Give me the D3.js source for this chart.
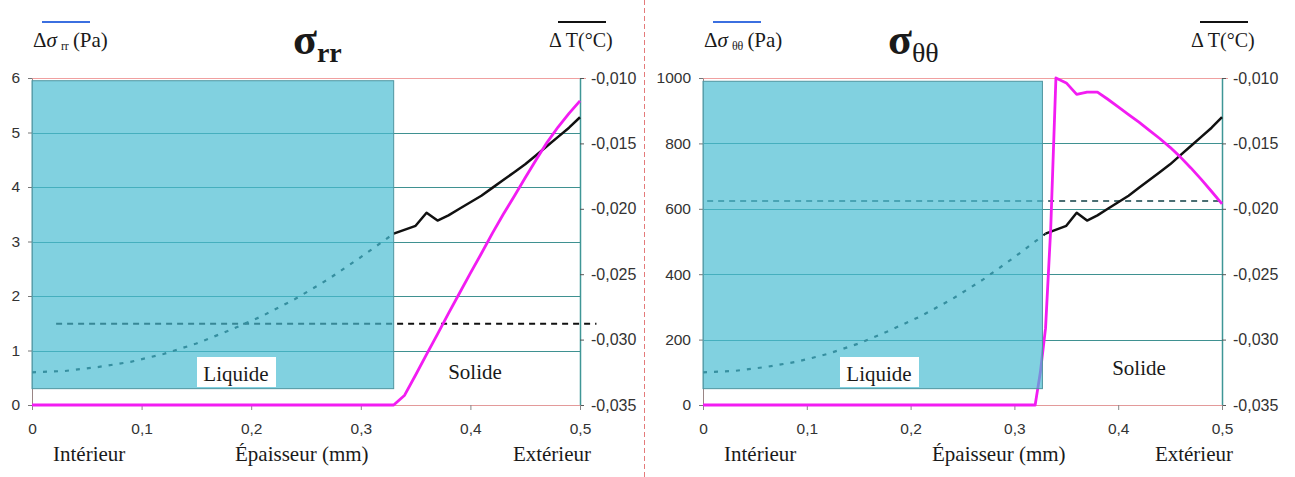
<!DOCTYPE html>
<html lang="fr">
<head>
<meta charset="UTF-8">
<title>σrr / σθθ</title>
<script src="https://cdn.jsdelivr.net/npm/d3@7"></script>
<style>
  body { margin: 0; background: #fff; }
  svg { display: block; }
  .tick text { font-family: "Liberation Sans", Arial, sans-serif; fill: #333; }
  .serif { font-family: "Liberation Serif", "Times New Roman", serif; fill: #1a1a1a; }
</style>
</head>
<body>
<svg id="chart" width="1295" height="477"></svg>
<script>
// thickness ticks (mm)
const xTicks = [0, 0.1, 0.2, 0.3, 0.4, 0.5];
const rrTicks = [0, 1, 2, 3, 4, 5, 6];
const ttTicks = [0, 200, 400, 600, 800, 1000];
const dTTicks = [-0.010, -0.015, -0.020, -0.025, -0.030, -0.035];

// stress sigma_rr (Pa)
const sigmaRR_x = [0, 0.33, 0.34, 0.35, 0.36, 0.37, 0.38, 0.39, 0.40, 0.41, 0.42, 0.43, 0.44, 0.45, 0.46, 0.47, 0.48, 0.49, 0.50];
const sigmaRR   = [0, 0, 0.18, 0.55, 0.93, 1.30, 1.68, 2.05, 2.42, 2.78, 3.15, 3.50, 3.83, 4.17, 4.50, 4.82, 5.10, 5.35, 5.58];

// stress sigma_thetatheta (Pa)
const sigmaTT_x = [0, 0.32, 0.325, 0.33, 0.335, 0.34, 0.35, 0.36, 0.37, 0.38, 0.39, 0.40, 0.41, 0.42, 0.43, 0.44, 0.45, 0.46, 0.47, 0.48, 0.49, 0.50];
const sigmaTT   = [0, 0, 100, 235, 540, 1000, 985, 950, 957, 957, 935, 912, 888, 865, 840, 815, 788, 758, 725, 690, 653, 615];

// temperature difference (°C), solid part and liquid part
const dTSolid_x = [0.33, 0.35, 0.36, 0.37, 0.38, 0.39, 0.40, 0.41, 0.42, 0.43, 0.44, 0.45, 0.46, 0.47, 0.48, 0.49, 0.50];
const dTSolid   = [-0.0219, -0.0213, -0.0203, -0.0209, -0.0205, -0.0200, -0.0195, -0.0190, -0.0184, -0.0178, -0.0172, -0.0166, -0.0159, -0.0152, -0.0145, -0.0138, -0.0130];
const dTLiquid_x = [0, 0.03, 0.06, 0.09, 0.12, 0.15, 0.18, 0.21, 0.24, 0.27, 0.30, 0.33];
const dTLiquid   = [-0.0325, -0.0324, -0.0321, -0.0317, -0.0311, -0.0303, -0.0293, -0.0282, -0.0269, -0.0254, -0.0237, -0.0219];

// dashed reference level [x0, x1, value] and liquid zone [x0, x1, y0, y1]
const rrLevel = [0.022, 0.515, 1.49];
const ttLevel = [0.004, 0.5, 624];
const rrLiquid = [0, 0.33, 0.3, 5.95];
const ttLiquid = [0, 0.327, 50, 990];

const loc = d3.formatLocale({ decimal: ",", thousands: "\u00a0", grouping: [3], currency: ["", ""], minus: "-" });
const fx = d => d === 0 ? "0" : loc.format(".1f")(d);
const fT = loc.format(".3f");
const fY = d3.format("d");

const svg = d3.select('#chart');
const yTop = 78, yBottom = 405;

// red dashed separator between the two panels
svg.append('line')
  .attr('x1', 644.5).attr('x2', 644.5).attr('y1', 0).attr('y2', 477)
  .attr('stroke', '#e47a7a').attr('stroke-dasharray', '5,3');

function zip(xs, ys) { return xs.map((v, i) => [v, ys[i]]); }
const crisp = v => Math.round(v) + 0.5;

function drawPanel(p) {
  const x = d3.scaleLinear().domain([0, 0.5]).range([p.left, p.right]);
  const y = d3.scaleLinear().domain(p.yDomain).range([yBottom, yTop]);
  const y2 = d3.scaleLinear().domain([-0.035, -0.010]).range([yBottom, yTop]);
  const g = svg.append('g');

  // grid lines
  const grid = p.yTicks.filter(v => v > p.yDomain[0] && v < p.yDomain[1]);
  g.selectAll('.gt').data(grid).join('line')
    .attr('x1', x(0)).attr('x2', x(0.5))
    .attr('y1', d => crisp(y(d))).attr('y2', d => crisp(y(d)))
    .attr('stroke', '#3f9191');
  g.append('line')
    .attr('x1', x(0)).attr('x2', x(0.5) + 6)
    .attr('y1', crisp(y(p.yDomain[1]))).attr('y2', crisp(y(p.yDomain[1])))
    .attr('stroke', '#f0a0a0');

  // axes
  const ax = g.append('g').attr('transform', `translate(${p.left},0)`)
    .call(d3.axisLeft(y).tickValues(p.yTicks).tickFormat(fY).tickSize(4).tickSizeOuter(0).tickPadding(8));
  ax.select('.domain').attr('stroke', '#9a8585');
  ax.selectAll('.tick line').attr('stroke', '#777');
  ax.selectAll('text').attr('font-size', 15.5);

  const ar = g.append('g').attr('transform', `translate(${p.right},0)`)
    .call(d3.axisRight(y2).tickValues(dTTicks).tickFormat(fT).tickSize(4).tickSizeOuter(0).tickPadding(7));
  ar.select('.domain').attr('stroke', '#3f9696').attr('stroke-width', 1.5);
  ar.selectAll('.tick line').attr('stroke', '#555');
  ar.selectAll('text').attr('font-size', 16);

  const ab = g.append('g').attr('transform', `translate(0,${yBottom})`)
    .call(d3.axisBottom(x).tickValues(xTicks).tickFormat(fx).tickSize(5).tickSizeOuter(0).tickPadding(13));
  ab.select('.domain').attr('stroke', '#e39a9a');
  ab.selectAll('.tick line').attr('stroke', '#888');
  ab.selectAll('text').attr('font-size', 15.5);

  // curves
  const line = d3.line().x(d => x(d[0])).y(d => y(d[1]));
  const lineT = d3.line().x(d => x(d[0])).y(d => y2(d[1]));

  g.append('path').datum([[p.level[0], p.level[2]], [p.level[1], p.level[2]]])
    .attr('d', line).attr('fill', 'none')
    .attr('stroke', p.levelColor).attr('stroke-width', 2).attr('stroke-dasharray', '6,5');

  g.append('path').datum(zip(dTLiquid_x, dTLiquid))
    .attr('d', lineT).attr('fill', 'none')
    .attr('stroke', '#0d2a30').attr('stroke-width', 2.2).attr('stroke-dasharray', '4,7');

  g.append('path').datum(zip(dTSolid_x, dTSolid))
    .attr('d', lineT).attr('fill', 'none')
    .attr('stroke', '#111').attr('stroke-width', 2.5).attr('stroke-linejoin', 'round');

  g.append('path').datum(zip(p.sx, p.sy))
    .attr('d', line).attr('fill', 'none')
    .attr('stroke', '#f21cf2').attr('stroke-width', 2.8).attr('stroke-linejoin', 'round');

  // liquid zone overlay
  const L = p.liquid;
  g.append('rect')
    .attr('x', x(L[0])).attr('y', y(L[3]))
    .attr('width', x(L[1]) - x(L[0])).attr('height', y(L[2]) - y(L[3]))
    .attr('fill', '#48bcd2').attr('fill-opacity', 0.69)
    .attr('stroke', '#4f95a0').attr('stroke-width', 1);

  // zone labels
  g.append('rect').attr('x', p.liqX - 39).attr('y', 357).attr('width', 79).attr('height', 30).attr('fill', '#fff');
  g.append('text').attr('class', 'serif').attr('x', p.liqX).attr('y', 381)
    .attr('text-anchor', 'middle').attr('font-size', 21).text('Liquide');
  g.append('text').attr('class', 'serif').attr('x', p.solX).attr('y', p.solY)
    .attr('text-anchor', 'middle').attr('font-size', 21).text('Solide');

  // bottom labels
  g.append('text').attr('class', 'serif').attr('x', p.left + 21).attr('y', 461).attr('font-size', 21).text('Intérieur');
  g.append('text').attr('class', 'serif').attr('x', p.epX).attr('y', 461).attr('font-size', 21).text('Épaisseur (mm)');
  g.append('text').attr('class', 'serif').attr('x', p.right + 11).attr('y', 461)
    .attr('text-anchor', 'end').attr('font-size', 21).text('Extérieur');

  // legends
  g.append('line').attr('x1', p.left + 10).attr('x2', p.left + 58).attr('y1', 22).attr('y2', 22)
    .attr('stroke', '#3b6fe0').attr('stroke-width', 2);
  const lt = g.append('text').attr('class', 'serif').attr('x', p.left + 1).attr('y', 47).attr('font-size', 21);
  lt.append('tspan').text('Δ');
  lt.append('tspan').attr('font-style', 'italic').text('σ');
  lt.append('tspan').attr('font-size', 12).attr('dx', 4).attr('dy', 3).text(p.sub);
  lt.append('tspan').attr('dx', 4).attr('dy', -3).text('(Pa)');

  g.append('line').attr('x1', p.right - 22).attr('x2', p.right + 26).attr('y1', 22).attr('y2', 22)
    .attr('stroke', '#111').attr('stroke-width', 2);
  g.append('text').attr('class', 'serif').attr('x', p.right - 31).attr('y', 47).attr('font-size', 20)
    .text('Δ T(°C)');

  // title
  const tt = g.append('text').attr('class', 'serif').attr('x', p.titleX).attr('y', 54);
  tt.append('tspan').attr('font-size', 44).attr('font-weight', 'bold').text('σ');
  tt.append('tspan').attr('font-size', 28).attr('dy', 8).attr('font-weight', p.subBold ? 'bold' : 'normal').text(p.sub);
}

drawPanel({
  left: 32, right: 580, yDomain: [0, 6], yTicks: rrTicks,
  sx: sigmaRR_x, sy: sigmaRR, level: rrLevel, levelColor: '#111', liquid: rrLiquid,
  liqX: 236, solX: 475, solY: 379, epX: 235, titleX: 293, sub: 'rr', subBold: true
});
drawPanel({
  left: 703, right: 1222, yDomain: [0, 1000], yTicks: ttTicks,
  sx: sigmaTT_x, sy: sigmaTT, level: ttLevel, levelColor: '#4b6f73', liquid: ttLiquid,
  liqX: 879, solX: 1139, solY: 375, epX: 932, titleX: 888, sub: 'θθ', subBold: false
});
</script>
</body>
</html>
